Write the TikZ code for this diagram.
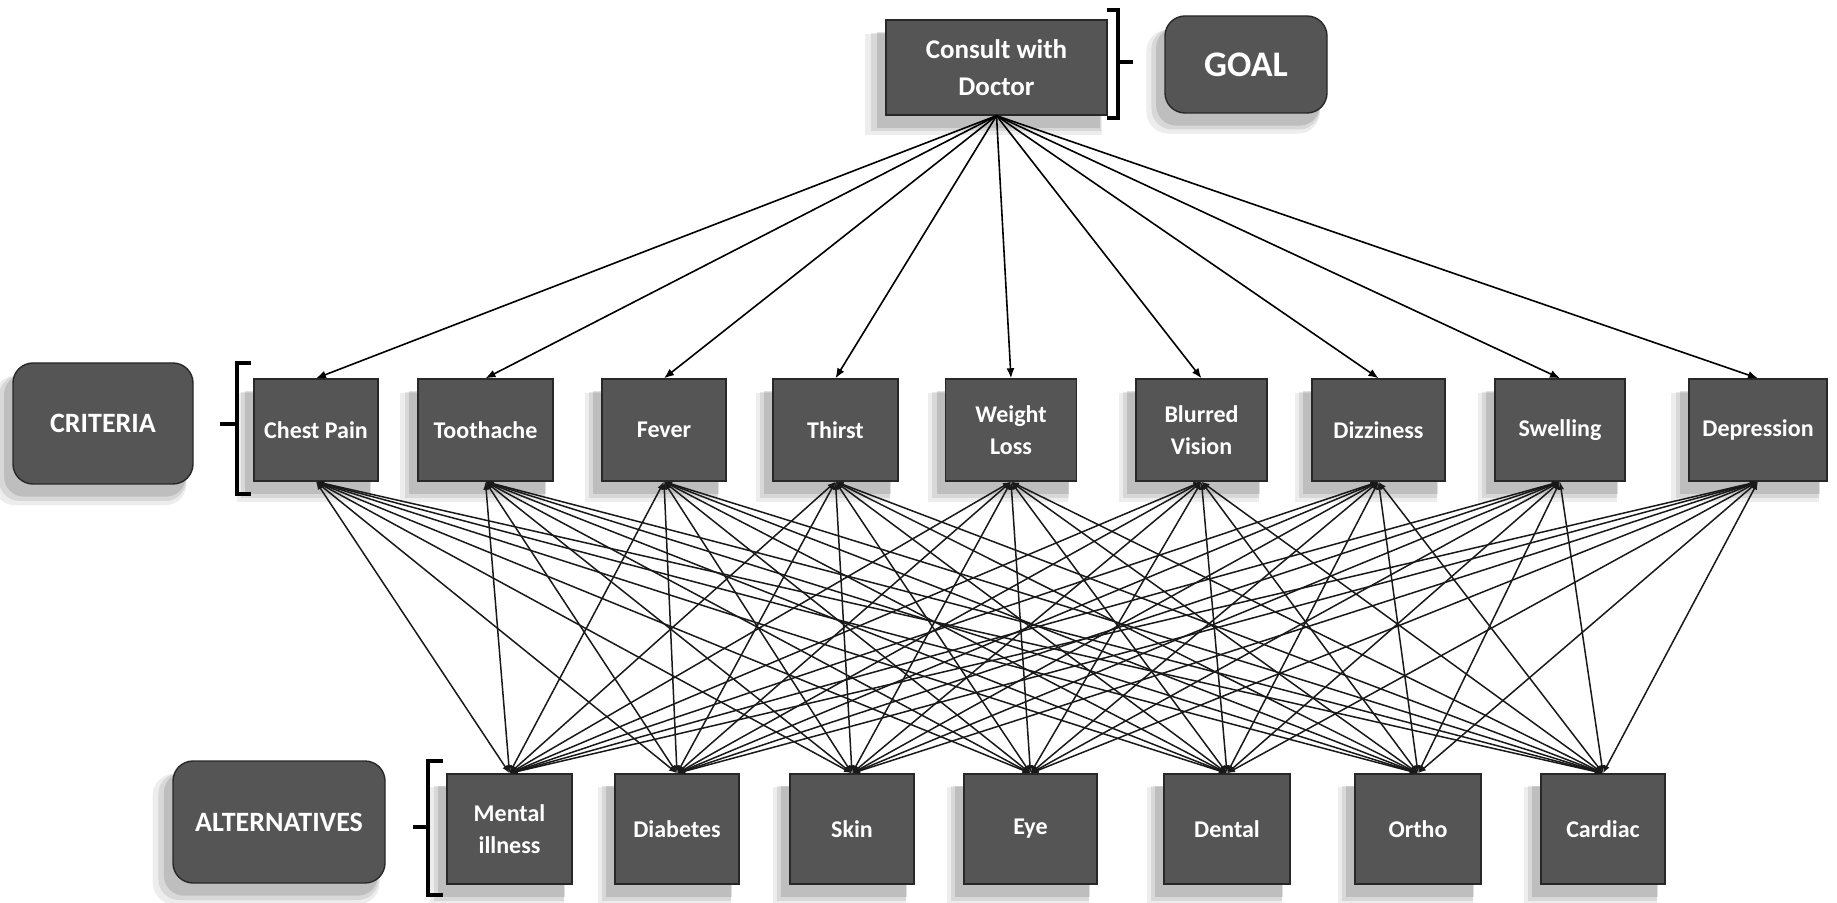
\documentclass[tikz,border=0pt]{standalone}
\usepackage{fontspec}
\setmainfont{Carlito}
\usepackage{xcolor}
\definecolor{boxgray}{RGB}{85,85,85}
\definecolor{boxline}{RGB}{40,40,40}
\usepackage{tikz}
\usetikzlibrary{positioning}
\usetikzlibrary{arrows.meta}
\usetikzlibrary{shadows}

\begin{document}
\begin{tikzpicture}[x=0.5pt,y=-0.5pt,
  fuzzy/.style={general shadow={fill=black,opacity=.07,shadow xshift=-6pt,shadow yshift=-8pt,shadow scale=1.07},
                general shadow={fill=black,opacity=.09,shadow xshift=-5pt,shadow yshift=-7pt,shadow scale=1.04},
                general shadow={fill=black,opacity=.12,shadow xshift=-4pt,shadow yshift=-6pt,shadow scale=1.01}},
  box/.style={draw=boxline,line width=0.7pt,fill=boxgray,text=white,align=center,inner sep=0pt,fuzzy,
              font=\bfseries\fontsize{12}{16}\selectfont},
  crit/.style={box,minimum height=51pt},
  alt/.style={box,minimum height=55pt},
  level/.style={box,rounded corners=10pt,font=\bfseries\fontsize{14}{17}\selectfont},
  bracket/.style={line width=2pt,black},
  topedge/.style={-{Latex[length=5pt,width=4pt]},line width=0.8pt,black},
  linkedge/.style={{Latex[length=4pt,width=3pt]}-{Latex[length=4pt,width=3pt]},line width=0.75pt,black!90}]
\useasboundingbox (0,0) rectangle (1837,903);

% goal
\node[box,minimum width=110.5pt,minimum height=47.5pt,font=\bfseries\fontsize{13.5}{18.5}\selectfont] (doc) at (996.5,67.5) {Consult with\\Doctor};
\node[level,minimum width=81pt,minimum height=48.5pt,font=\bfseries\fontsize{18}{20}\selectfont] (goal) at (1246,64.5) {GOAL};

% criteria
\foreach \nm/\cx/\w/\txt in {c1/316/124/Chest Pain, c2/485.5/135/Toothache, c3/664/124/Fever,
    c4/835.5/125/Thirst, c5/1011/131/{Weight\\Loss}, c6/1201.5/131/{Blurred\\Vision},
    c7/1378.5/133/Dizziness, c8/1560/130/Swelling, c9/1758/138/Depression}
  \node[crit,minimum width={\w*0.5pt}] (\nm) at (\cx,430) {\txt};
\node[level,minimum width=90pt,minimum height=60.5pt] (critlabel) at (103,423.5) {CRITERIA};

% alternatives
\foreach \nm/\cx/\w/\txt in {a1/509.5/125/{Mental\\illness}, a2/677/124/Diabetes, a3/852/124/Skin,
    a4/1030.5/133/Eye, a5/1227/126/Dental, a6/1418/126/Ortho, a7/1603/124/Cardiac}
  \node[alt,minimum width={\w*0.5pt}] (\nm) at (\cx,829) {\txt};
\node[level,minimum width=106pt,minimum height=61pt] (altlabel) at (279,822) {ALTERNATIVES};

% brackets
\draw[bracket] (1107,10) -- (1118,10) -- (1118,118) -- (1107,118);
\draw[bracket] (1118,62) -- (1133,62);
\draw[bracket] (251,363) -- (237,363) -- (237,494) -- (251,494);
\draw[bracket] (220,424) -- (237,424);
\draw[bracket] (443,761) -- (428,761) -- (428,895) -- (443,895);
\draw[bracket] (413,827) -- (428,827);

% edges
\foreach \i in {1,...,9}
  \draw[topedge] (doc.south) -- (c\i.north);
\foreach \i in {1,...,9}
  \foreach \j in {1,...,7}
    \draw[linkedge] (c\i.south) -- (a\j.north);
\end{tikzpicture}
\end{document}
